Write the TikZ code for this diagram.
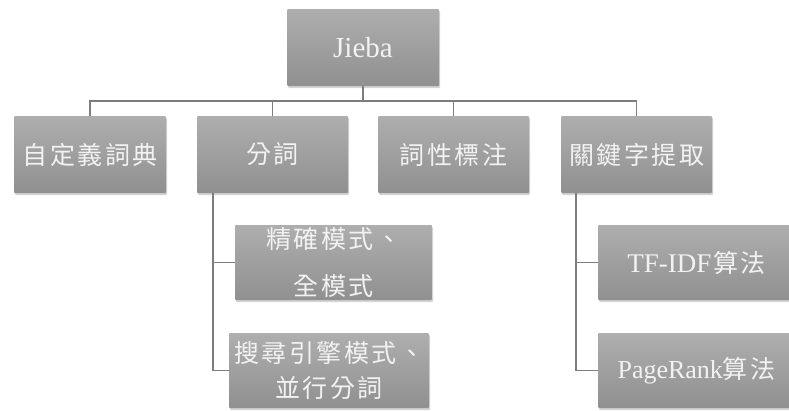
\documentclass[tikz,border=0pt]{standalone}
\usepackage{fontspec}
\setmainfont{Liberation Serif}
\newfontfamily\cjk[LetterSpace=10]{Noto Sans CJK TC}
\usetikzlibrary{shadows}
\definecolor{boxtop}{RGB}{174,174,174}
\definecolor{boxbot}{RGB}{144,144,144}
\definecolor{linec}{RGB}{125,125,125}
\definecolor{txt}{RGB}{242,242,242}
\tikzset{
  box/.style={draw=none, top color=boxtop, bottom color=boxbot, text=txt,
    inner sep=0pt, rounded corners=1pt,
    drop shadow={opacity=0.35, shadow xshift=1pt, shadow yshift=-2pt}},
  lvl/.style={box, minimum width=151pt, minimum height=77pt},
  sub/.style={box, minimum height=75pt},
  cjkfont/.style={font=\fontsize{25}{30}\selectfont\cjk},
  conn/.style={draw=linec, line width=1.6pt}
}
\begin{document}
\begin{tikzpicture}[x=1pt,y=-1pt]
\useasboundingbox (0,0) rectangle (789,410);
\node[box, minimum width=152pt, minimum height=77pt, font=\fontsize{29}{32}\selectfont] (jieba) at (363,47.5) {Jieba};
\node[lvl, minimum width=152pt, cjkfont] (c1) at (90,154.5) {自定義詞典};
\node[lvl, cjkfont] (c2) at (272.5,154.5) {分詞};
\node[lvl, cjkfont] (c3) at (453.5,154.5) {詞性標注};
\node[lvl, cjkfont] (c4) at (636.5,154.5) {關鍵字提取};
\node[sub, minimum width=197pt, align=center, font=\fontsize{25}{47}\selectfont\cjk] (s1) at (333.5,262.5) {精確模式、\\全模式};
\node[sub, minimum width=200pt, align=center, font=\fontsize{25}{35}\selectfont\cjk] (s2) at (329,370.5) {搜尋引擎模式、\\並行分詞};
\node[sub, minimum width=197pt] (t1) at (696.5,262.5) {{\fontsize{27}{30}\selectfont TF-IDF}\,{\fontsize{25}{30}\selectfont\cjk 算法}};
\node[sub, minimum width=197pt] (t2) at (696.5,370.5) {{\fontsize{26}{30}\selectfont PageRank}{\fontsize{25}{30}\selectfont\cjk 算法}};
\coordinate (bus) at (0,101);
\foreach \c in {c1,c2,c3,c4}{
  \draw[conn] (jieba.south) -- (jieba.south |- bus) -| (\c.north);
}
\coordinate (b2) at ([xshift=16pt]c2.south west);
\coordinate (b4) at ([xshift=15pt]c4.south west);
\draw[conn] (b2) |- (s1.west);
\draw[conn] (b2) |- (s2.west);
\draw[conn] (b4) |- (t1.west);
\draw[conn] (b4) |- (t2.west);
\end{tikzpicture}
\end{document}
